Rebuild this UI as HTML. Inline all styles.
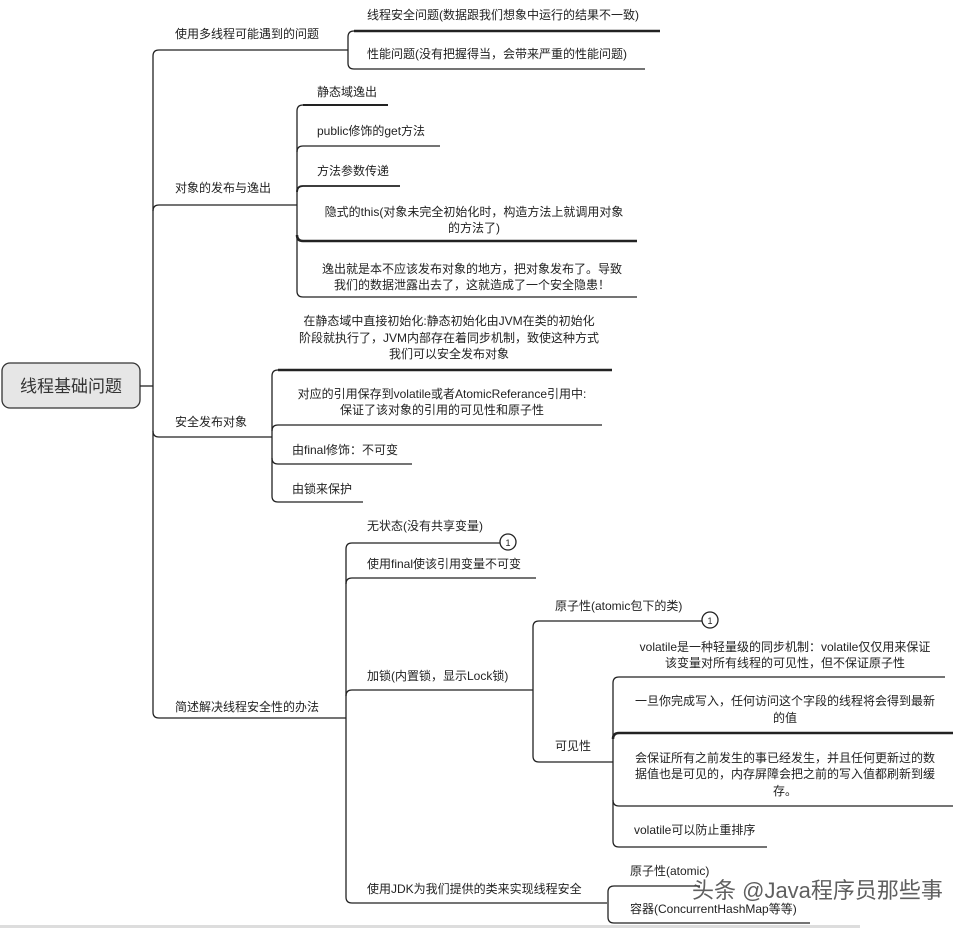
<!DOCTYPE html>
<html><head><meta charset="utf-8"><style>
html,body{margin:0;padding:0;background:#fff;}
svg{display:block;}
text{font-family:"Liberation Sans","Noto Sans CJK SC",sans-serif;font-size:12px;fill:#222;}
</style></head><body>
<svg width="978" height="928" viewBox="0 0 978 928" xmlns="http://www.w3.org/2000/svg">
<g fill="none" stroke="#222" stroke-width="1.3">
<rect x="2" y="363" width="138" height="45" rx="8" fill="#e6e6e6" stroke="#333"/>
<line x1="140" y1="386" x2="153" y2="386"/>
<path d="M159 50 Q153 50 153 56 L153 712 Q153 718 159 718"/>
<line x1="159" y1="50" x2="348" y2="50"/>
<path d="M153 211 Q153 205 159 205 L297 205"/>
<path d="M153 431 Q153 437 159 437 L272 437"/>
<line x1="159" y1="718" x2="346" y2="718"/>
<!-- group1 -->
<path d="M354 31 Q348 31 348 37 L348 63 Q348 69 354 69"/>
<line x1="354" y1="31" x2="660" y2="31" stroke-width="2.5"/>
<line x1="354" y1="69" x2="645" y2="69"/>
<!-- group2 -->
<path d="M303 105 Q297 105 297 111 L297 291 Q297 297 303 297 L637 297"/>
<line x1="303" y1="105" x2="388" y2="105" stroke-width="2"/>
<path d="M297 152 Q297 146 303 146 L440 146"/>
<path d="M297 192 Q297 186 303 186 L400 186" stroke-width="1.8"/>
<path d="M297 235 Q297 241 303 241 L637 241" stroke-width="2.5"/>
<!-- group3 -->
<path d="M278 370 Q272 370 272 376 L272 496 Q272 502 278 502 L363 502"/>
<line x1="278" y1="370" x2="612" y2="370" stroke-width="2.5"/>
<path d="M272 431 Q272 425 278 425 L602 425"/>
<path d="M272 458 Q272 464 278 464 L412 464"/>
<!-- group4 -->
<path d="M352 543 Q346 543 346 549 L346 897 Q346 903 352 903 L607 903"/>
<line x1="352" y1="543" x2="500" y2="543"/>
<path d="M346 584 Q346 578 352 578 L536 578"/>
<path d="M346 696 Q346 690 352 690 L533 690"/>
<circle cx="508" cy="542" r="8" fill="#fff"/>
<path d="M539 621 Q533 621 533 627 L533 756 Q533 762 539 762 L613 762"/>
<line x1="539" y1="621" x2="702" y2="621"/>
<circle cx="710" cy="620" r="8" fill="#fff"/>
<path d="M619 677 Q613 677 613 683 L613 841 Q613 847 619 847 L767 847"/>
<line x1="619" y1="677" x2="945" y2="677"/>
<path d="M613 739 Q613 733 619 733 L953 733" stroke-width="2.5"/>
<path d="M613 800 Q613 806 619 806 L953 806"/>
<path d="M614 886 Q608 886 608 892 L608 917 Q608 923 614 923 L810 923"/>
<line x1="614" y1="886" x2="700" y2="886"/>
</g>
<rect x="0" y="925" width="860" height="3" fill="#ddd"/>
<text x="71" y="392" text-anchor="middle" style="font-size:17px;fill:#333">线程基础问题</text>
<text x="508" y="546" text-anchor="middle" style="font-size:9px">1</text>
<text x="710" y="624" text-anchor="middle" style="font-size:9px">1</text>
<text x="175" y="38">使用多线程可能遇到的问题</text>
<text x="367" y="19">线程安全问题(数据跟我们想象中运行的结果不一致)</text>
<text x="367" y="58">性能问题(没有把握得当，会带来严重的性能问题)</text>
<text x="175" y="192">对象的发布与逸出</text>
<text x="317" y="96">静态域逸出</text>
<text x="317" y="135">public修饰的get方法</text>
<text x="317" y="175">方法参数传递</text>
<text x="474" y="216" text-anchor="middle">隐式的this(对象未完全初始化时，构造方法上就调用对象</text>
<text x="474" y="232" text-anchor="middle">的方法了)</text>
<text x="472" y="273" text-anchor="middle">逸出就是本不应该发布对象的地方，把对象发布了。导致</text>
<text x="472" y="289" text-anchor="middle">我们的数据泄露出去了，这就造成了一个安全隐患！</text>
<text x="175" y="426">安全发布对象</text>
<text x="449" y="325" text-anchor="middle">在静态域中直接初始化:静态初始化由JVM在类的初始化</text>
<text x="449" y="342" text-anchor="middle">阶段就执行了，JVM内部存在着同步机制，致使这种方式</text>
<text x="449" y="358" text-anchor="middle">我们可以安全发布对象</text>
<text x="442" y="398" text-anchor="middle">对应的引用保存到volatile或者AtomicReferance引用中:</text>
<text x="442" y="414" text-anchor="middle">保证了该对象的引用的可见性和原子性</text>
<text x="292" y="454">由final修饰：不可变</text>
<text x="292" y="493">由锁来保护</text>
<text x="175" y="711">简述解决线程安全性的办法</text>
<text x="367" y="530">无状态(没有共享变量)</text>
<text x="367" y="568">使用final使该引用变量不可变</text>
<text x="367" y="680">加锁(内置锁，显示Lock锁)</text>
<text x="367" y="893">使用JDK为我们提供的类来实现线程安全</text>
<text x="555" y="610">原子性(atomic包下的类)</text>
<text x="555" y="750">可见性</text>
<text x="785" y="651" text-anchor="middle">volatile是一种轻量级的同步机制：volatile仅仅用来保证</text>
<text x="785" y="667" text-anchor="middle">该变量对所有线程的可见性，但不保证原子性</text>
<text x="785" y="705" text-anchor="middle">一旦你完成写入，任何访问这个字段的线程将会得到最新</text>
<text x="785" y="722" text-anchor="middle">的值</text>
<text x="785" y="762" text-anchor="middle">会保证所有之前发生的事已经发生，并且任何更新过的数</text>
<text x="785" y="778" text-anchor="middle">据值也是可见的，内存屏障会把之前的写入值都刷新到缓</text>
<text x="785" y="795" text-anchor="middle">存。</text>
<text x="634" y="834">volatile可以防止重排序</text>
<text x="630" y="875">原子性(atomic)</text>
<text x="630" y="913">容器(ConcurrentHashMap等等)</text>
<text x="692" y="898" style="font-size:22px;fill:#444;opacity:0.85">头条 @Java程序员那些事</text>
</svg>
</body></html>
